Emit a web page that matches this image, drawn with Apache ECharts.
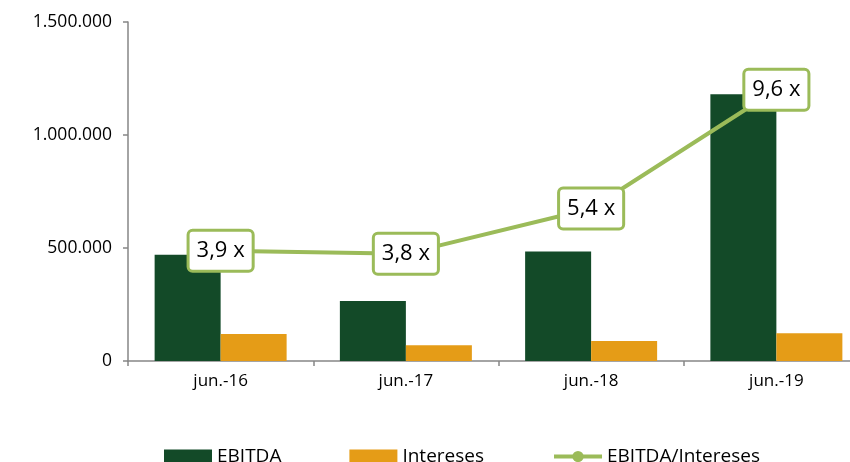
<!DOCTYPE html>
<html>
<head>
<meta charset="utf-8">
<style>
  html, body { margin: 0; padding: 0; background: #fff; }
  #chart { width: 850px; height: 462px; }
</style>
<script src="https://cdn.jsdelivr.net/npm/echarts@6/dist/echarts.min.js"></script>
</head>
<body>
<div id="chart"></div>
<script>
// datos
const categories = ['jun.-16', 'jun.-17', 'jun.-18', 'jun.-19'];
const ebitda = [470000, 265000, 484000, 1180000];
const intereses = [119500, 69500, 88500, 122600];
const cobertura = [3.9, 3.8, 5.4, 9.6];

const FONT = '"Open Sans", "Noto Sans", sans-serif';
const GREEN_LINE = '#9BBB59';

// 1.500.000 con puntos
const fmtMiles = (v) => String(v).replace(/\B(?=(\d{3})+(?!\d))/g, '.');

const chart = echarts.init(document.getElementById('chart'));

chart.setOption({
  animation: false,
  textStyle: { fontFamily: FONT },
  grid: { left: 128, top: 22, width: 741, bottom: 101, outerBoundsMode: 'none' },
  legend: {
    left: 164,
    top: 447,
    padding: 0,
    itemWidth: 48,
    itemHeight: 14,
    itemGap: 68,
    textStyle: { fontFamily: FONT, fontSize: 19, color: '#000' },
    data: [
      { name: 'EBITDA', icon: 'rect' },
      { name: 'Intereses', icon: 'rect' },
      { name: 'EBITDA/Intereses', lineStyle: { width: 4 } },
    ],
  },
  xAxis: {
    type: 'category',
    data: categories,
    axisLine: { lineStyle: { color: '#868686', width: 1.5 } },
    axisTick: { show: true, length: 5, lineStyle: { color: '#868686', width: 1.5 } },
    axisLabel: { color: '#000', fontSize: 17, margin: 12 },
  },
  yAxis: [
    {
      type: 'value',
      min: 0,
      max: 1500000,
      interval: 500000,
      splitLine: { show: false },
      axisLine: { show: true, lineStyle: { color: '#868686', width: 1.5 } },
      axisTick: { show: true, length: 5, lineStyle: { color: '#868686', width: 1.5 } },
      axisLabel: { color: '#000', fontSize: 17.5, margin: 16, formatter: fmtMiles },
    },
    {
      type: 'value',
      min: 0,
      max: 12,
      show: false,
      splitLine: { show: false },
    },
  ],
  series: [
    {
      name: 'EBITDA',
      type: 'bar',
      data: ebitda,
      barWidth: 66,
      barGap: '0%',
      itemStyle: { color: '#134A28' },
    },
    {
      name: 'Intereses',
      type: 'bar',
      data: intereses,
      barWidth: 66,
      barGap: '0%',
      itemStyle: { color: '#E59C17' },
    },
    {
      name: 'EBITDA/Intereses',
      type: 'line',
      yAxisIndex: 1,
      data: cobertura,
      symbol: 'circle',
      symbolSize: 0,
      showSymbol: true,
      lineStyle: { color: GREEN_LINE, width: 4 },
      itemStyle: { color: GREEN_LINE },
      label: {
        show: true,
        position: 'inside',
        formatter: (p) => p.value.toFixed(1).replace('.', ',') + ' x',
        fontFamily: FONT,
        fontSize: 22,
        color: '#000',
        backgroundColor: '#fff',
        borderColor: GREEN_LINE,
        borderWidth: 3,
        borderRadius: 3,
        padding: [8, 7, 8, 7],
      },
      z: 5,
    },
  ],
});
</script>
</body>
</html>
